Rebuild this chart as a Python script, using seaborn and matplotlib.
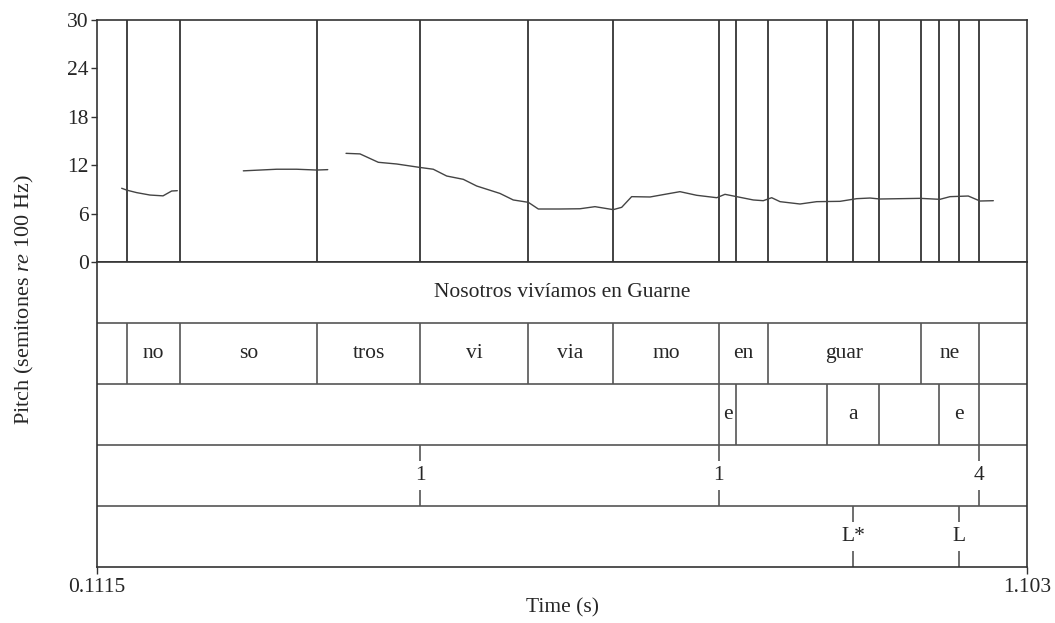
import matplotlib
matplotlib.use("Agg")
import matplotlib.pyplot as plt
import seaborn as sns
import pandas as pd

# ---------------- data ----------------
t_start, t_end = 0.1115, 1.103

seg1_t = [0.1378, 0.1435, 0.1538, 0.1680, 0.1819, 0.1911, 0.1971]
seg1_st = [9.14, 8.9, 8.6, 8.3, 8.2, 8.8, 8.84]

seg2_t = [0.2675, 0.2853, 0.3031, 0.3244, 0.3457, 0.3575]
seg2_st = [11.3, 11.4, 11.5, 11.5, 11.4, 11.45]

seg3_t = [0.3770, 0.3919, 0.4114, 0.4310, 0.4559, 0.4700, 0.4843, 0.5020,
          0.5163, 0.5411, 0.5553, 0.5713, 0.5820, 0.6051, 0.6264, 0.6424,
          0.6619, 0.6709, 0.6815, 0.7011, 0.7189, 0.7330, 0.7508, 0.7722,
          0.7810, 0.7935, 0.8112, 0.8218, 0.8308, 0.8397, 0.8610, 0.8788,
          0.9036, 0.9214, 0.9356, 0.9463, 0.9890, 1.0102, 1.0209, 1.0404,
          1.0529, 1.0671]
seg3_st = [13.47, 13.4, 12.36, 12.15, 11.72, 11.5, 10.66, 10.25,
           9.42, 8.5, 7.69, 7.4, 6.57, 6.57, 6.6, 6.86,
           6.49, 6.78, 8.1, 8.06, 8.43, 8.72, 8.27, 7.97,
           8.39, 8.1, 7.69, 7.6, 7.97, 7.48, 7.19, 7.48,
           7.52, 7.85, 7.93, 7.81, 7.89, 7.77, 8.1, 8.18,
           7.56, 7.6]

word_bounds = [0.1115, 1.103]
word_labels = ["Nosotros vivíamos en Guarne"]

syl_bounds = [0.1115, 0.1435, 0.1999, 0.3460, 0.4559, 0.5710, 0.6616,
              0.7746, 0.8269, 0.9900, 1.0518, 1.103]
syl_labels = ["", "no", "so", "tros", "vi", "via", "mo", "en", "guar", "ne", ""]

seg_bounds = [0.1115, 0.7746, 0.7927, 0.8898, 0.9452, 1.0092, 1.0518, 1.103]
seg_labels = ["", "e", "", "a", "", "e", ""]

bi_times = [0.4559, 0.7746, 1.0518]
bi_labels = ["1", "1", "4"]

tone_times = [0.9175, 1.0310]
tone_labels = ["L*", "L"]

y_ticks = [0, 6, 12, 18, 24, 30]
x_tick_labels = ["0.1115", "1.103"]

# ---------------- style ----------------
sns.set_style("white")
plt.rcParams["font.family"] = ["Liberation Serif", "DejaVu Serif"]
plt.rcParams["mathtext.fontset"] = "custom"
plt.rcParams["mathtext.rm"] = "Liberation Serif"
plt.rcParams["mathtext.it"] = "Liberation Serif:italic"

FS = 15.5
LC = "#333333"
TC = "#555555"
LW = 1.2

W, H = 1055, 623
fig = plt.figure(figsize=(W / 100, H / 100), dpi=100)
left, right = 97, 1027
p_top, p_bot, t_bot = 20, 262, 567
ax_p = fig.add_axes([left / W, 1 - p_bot / H, (right - left) / W, (p_bot - p_top) / H])
ax_t = fig.add_axes([left / W, 1 - t_bot / H, (right - left) / W, (t_bot - p_bot) / H])

# ---------------- pitch ----------------
df = pd.concat([
    pd.DataFrame({"time": seg1_t, "st": seg1_st, "seg": 1}),
    pd.DataFrame({"time": seg2_t, "st": seg2_st, "seg": 2}),
    pd.DataFrame({"time": seg3_t, "st": seg3_st, "seg": 3}),
])

all_bounds = sorted(set(syl_bounds[1:-1] + seg_bounds[1:-1] + bi_times + tone_times))
ax_p.vlines(all_bounds, 0, 30, color="#222222", lw=LW, zorder=1)
sns.lineplot(data=df, x="time", y="st", units="seg", estimator=None,
             color="#444444", lw=1.0, ax=ax_p, legend=False, zorder=3)

ax_p.set_xlim(t_start, t_end)
ax_p.set_ylim(0, 30)
ax_p.set_yticks(y_ticks)
ax_p.set_yticklabels([str(v) for v in y_ticks], fontsize=FS)
ax_p.set_xticks([])
ax_p.set_xlabel("")
ax_p.set_ylabel("")
ax_p.tick_params(axis="y", direction="out", length=4, width=1, color=LC, pad=2, left=True)
for s in ax_p.spines.values():
    s.set_color(LC)
    s.set_linewidth(LW)

# ---------------- tiers ----------------
ax_t.set_xlim(t_start, t_end)
ax_t.set_ylim(0, 5)
ax_t.set_yticks([])
for y in [1, 2, 3, 4]:
    ax_t.axhline(y, color=TC, lw=LW)

def interval_tier(bounds, labels, row):
    lo, hi = row, row + 1
    ax_t.vlines(bounds[1:-1], lo, hi, color=TC, lw=LW)
    for a, b, lab in zip(bounds[:-1], bounds[1:], labels):
        if lab:
            ax_t.text((a + b) / 2, lo + 0.5, lab, ha="center", va="center", fontsize=FS)

def point_tier(times, labels, row):
    lo, hi = row, row + 1
    for t, lab in zip(times, labels):
        ax_t.vlines(t, hi - 0.26, hi, color=TC, lw=LW)
        ax_t.vlines(t, lo, lo + 0.26, color=TC, lw=LW)
        ax_t.text(t, lo + 0.5, lab, ha="center", va="center", fontsize=FS)

interval_tier(word_bounds, word_labels, 4)
interval_tier(syl_bounds, syl_labels, 3)
interval_tier(seg_bounds, seg_labels, 2)
point_tier(bi_times, bi_labels, 1)
point_tier(tone_times, tone_labels, 0)

ax_t.set_xticks([t_start, t_end])
ax_t.set_xticklabels(x_tick_labels, fontsize=FS)
ax_t.tick_params(axis="x", direction="out", length=5, width=1, color=LC, pad=3, bottom=True)
ax_t.set_xlabel("Time (s)", fontsize=FS, labelpad=1)
for s in ax_t.spines.values():
    s.set_color(LC)
    s.set_linewidth(LW)

fig.text(24 / W, 1 - 300 / H, r"Pitch (semitones $\it{re}$ 100 Hz)", rotation=90,
         ha="center", va="center", fontsize=16)

fig.savefig("out.png", dpi=100)
